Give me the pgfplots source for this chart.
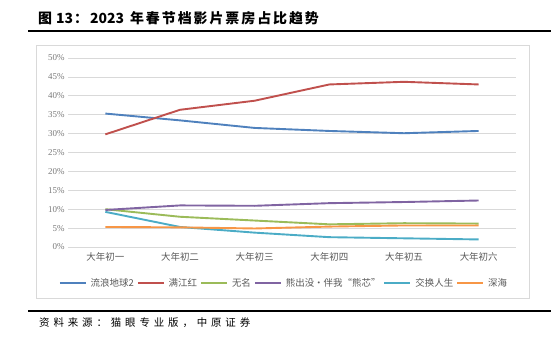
\documentclass[border=0pt]{standalone}
\usepackage{pgfplots}
\pgfplotsset{compat=1.18}
\usepackage{fontspec}
\setmainfont{Liberation Serif}
\newfontfamily\cjk{Noto Sans CJK SC}
\newfontfamily\cjktitle[LetterSpace=14]{Noto Sans CJK SC}
\newfontfamily\cjksrc[LetterSpace=37]{Noto Sans CJK SC}
\definecolor{cBlue}{HTML}{4F81BD}
\definecolor{cRed}{HTML}{C0504D}
\definecolor{cGreen}{HTML}{9BBB59}
\definecolor{cPurple}{HTML}{8064A2}
\definecolor{cAqua}{HTML}{4BACC6}
\definecolor{cOrange}{HTML}{F79646}
\definecolor{txtgray}{HTML}{595959}
\definecolor{gridgray}{HTML}{D9D9D9}
\begin{document}
\begin{tikzpicture}[x=1bp,y=1bp]
\useasboundingbox (0,0) rectangle (551,351);
\node[anchor=west, inner sep=0pt, font=\bfseries\fontsize{14}{16}\selectfont] at (38,333) {\cjktitle 图\hspace{4bp}{\cjk 13}\hspace{1bp}：\hspace{2bp}{\cjk 2023}\hspace{6bp}年春节档影片票房占比趋势};
\draw[line width=2bp] (28,320) -- (551,320);
\draw[draw=gridgray, line width=0.8bp] (36,53) rectangle (529,306);
\draw[line width=1.5bp] (28,40) -- (551,40);
\node[anchor=west, inner sep=0pt, font=\cjksrc\fontsize{10.5}{12}\selectfont] at (39,28) {资料来源：猫眼专业版，中原证券};
\begin{axis}[
  at={(68bp,104bp)}, anchor=south west,
  width=448bp, height=189bp, scale only axis,
  xmin=-0.5, xmax=5.5, ymin=0, ymax=50,
  axis line style={draw=none},
  xtick={0,1,2,3,4,5},
  xticklabels={大年初一,大年初二,大年初三,大年初四,大年初五,大年初六},
  x tick label style={font=\cjk\fontsize{9.5}{11}\selectfont, text=txtgray, yshift=-2bp},
  ytick={0,5,10,15,20,25,30,35,40,45,50},
  yticklabels={0\%,5\%,10\%,15\%,20\%,25\%,30\%,35\%,40\%,45\%,50\%},
  y tick label style={font=\fontsize{9}{10}\selectfont, text=txtgray!80},
  major tick length=0pt,
  ymajorgrids, grid style={draw=gridgray, line width=0.8bp},
  legend columns=6,
  legend style={at={(0.482,-0.19)}, anchor=center, draw=none, fill=none,
    font=\cjk\fontsize{9.5}{11}\selectfont, text=txtgray,
    /tikz/every odd column/.append style={column sep=2bp},
    /tikz/every even column/.append style={column sep=1bp}},
  legend image code/.code={\draw[#1] (0bp,0bp) -- (26bp,0bp);},
  every axis plot/.append style={line width=1.9bp, no markers},
]
\addplot[cBlue] coordinates {(0,35.3) (1,33.5) (2,31.5) (3,30.7) (4,30.1) (5,30.7)};
\addplot[cRed] coordinates {(0,29.8) (1,36.3) (2,38.7) (3,43.0) (4,43.7) (5,43.0)};
\addplot[cGreen] coordinates {(0,10.0) (1,8.0) (2,7.0) (3,6.0) (4,6.3) (5,6.2)};
\addplot[cPurple] coordinates {(0,9.8) (1,11.0) (2,10.9) (3,11.6) (4,11.9) (5,12.3)};
\addplot[cAqua] coordinates {(0,9.3) (1,5.3) (2,3.8) (3,2.6) (4,2.3) (5,2.0)};
\addplot[cOrange] coordinates {(0,5.3) (1,5.2) (2,4.9) (3,5.4) (4,5.7) (5,5.7)};
\legend{流浪地球2,满江红,无名,熊出没·伴我“熊芯”,交换人生,深海}
\end{axis}
\end{tikzpicture}
\end{document}
